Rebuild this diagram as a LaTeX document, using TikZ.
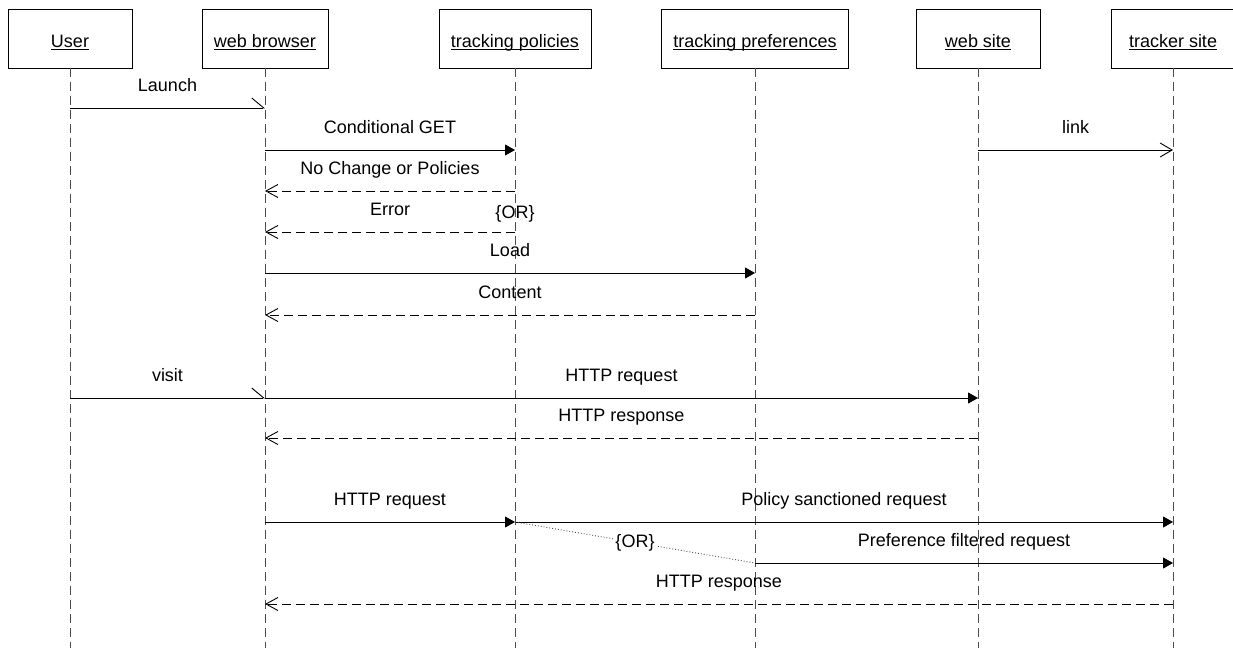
\documentclass[tikz,border=0pt]{standalone}
\usepackage{amsmath}
\usepackage{fontspec}
\setmainfont{Liberation Sans}
\usetikzlibrary{arrows.meta}
\tikzset{
  objbox/.style={draw, line width=0.9pt, minimum width=124pt, minimum height=59pt,
    inner xsep=12pt, text height=21pt, text depth=4pt, font=\fontsize{18}{21}\selectfont},
  lifeline/.style={draw=black!70, line width=0.9pt, dash pattern=on 9pt off 5pt},
  call/.style={line width=0.9pt, -{Triangle[length=10pt,width=11pt]}},
  async/.style={line width=0.9pt, -{Straight Barb[length=12pt,width=14pt]}},
  halfasync/.style={line width=0.9pt, -{Straight Barb[left,length=12pt,width=20pt]}},
  reply/.style={line width=0.9pt, dash pattern=on 9pt off 5pt,
    -{Straight Barb[length=12pt,width=13pt]}},
  msgtext/.style={midway, anchor=base, yshift=17pt, font=\fontsize{18}{21}\selectfont}
}
\newcommand{\objname}[1]{\underline{\smash[b]{#1}}}

\begin{document}
\begin{tikzpicture}[x=1pt,y=-1pt]
  \useasboundingbox (0,0) rectangle (1233,648);

  \node[objbox] (user)     at (70,38.5)   {\objname{User}};
  \node[objbox] (browser)  at (265,38.5)  {\objname{web browser}};
  \node[objbox] (policies) at (515,38.5)  {\objname{tracking policies}};
  \node[objbox] (prefs)    at (755,38.5)  {\objname{tracking preferences}};
  \node[objbox] (site)     at (978,38.5)  {\objname{web site}};
  \node[objbox] (tracker)  at (1173,38.5) {\objname{tracker site}};

  \foreach \o in {user,browser,policies,prefs,site,tracker}
    \draw[lifeline] (\o.south) -- (\o.south |- 0,648);

  \draw[halfasync] (user |- 0,108) -- (browser |- 0,108) node[msgtext] {Launch};
  \draw[call] (browser |- 0,150) -- (policies |- 0,150) node[msgtext] {Conditional GET};
  \draw[async] (site |- 0,150) -- (tracker |- 0,150) node[msgtext] {link};
  \draw[reply] (policies |- 0,191) -- (browser |- 0,191) node[msgtext] {No Change or Policies};
  \draw[reply] (policies |- 0,232) -- (browser |- 0,232) node[msgtext] {Error};
  \node[anchor=base, font=\fontsize{18}{21}\selectfont] (or1) at (policies |- 0,218) {\{OR\}};
  \draw[call] (browser |- 0,273) -- (prefs |- 0,273) node[msgtext] {Load};
  \draw[reply] (prefs |- 0,315) -- (browser |- 0,315) node[msgtext] {Content};

  \draw[halfasync] (user |- 0,398) -- (browser |- 0,398) node[msgtext] {visit};
  \draw[call] (browser |- 0,398) -- (site |- 0,398) node[msgtext] {HTTP request};
  \draw[reply] (site |- 0,438) -- (browser |- 0,438) node[msgtext] {HTTP response};

  \draw[call] (browser |- 0,522) -- (policies |- 0,522) node[msgtext] {HTTP request};
  \draw[call] (policies |- 0,522) -- (tracker |- 0,522) node[msgtext] {Policy sanctioned request};
  \draw[dotted, draw=black!70, line width=0.9pt] (policies |- 0,522) -- (prefs |- 0,563)
    node[midway, fill=white, inner sep=1pt, font=\fontsize{18}{21}\selectfont] (or2) {\{OR\}};
  \draw[call] (prefs |- 0,563) -- (tracker |- 0,563) node[msgtext] {Preference filtered request};
  \draw[reply] (tracker |- 0,604) -- (browser |- 0,604) node[msgtext] {HTTP response};
\end{tikzpicture}
\end{document}
